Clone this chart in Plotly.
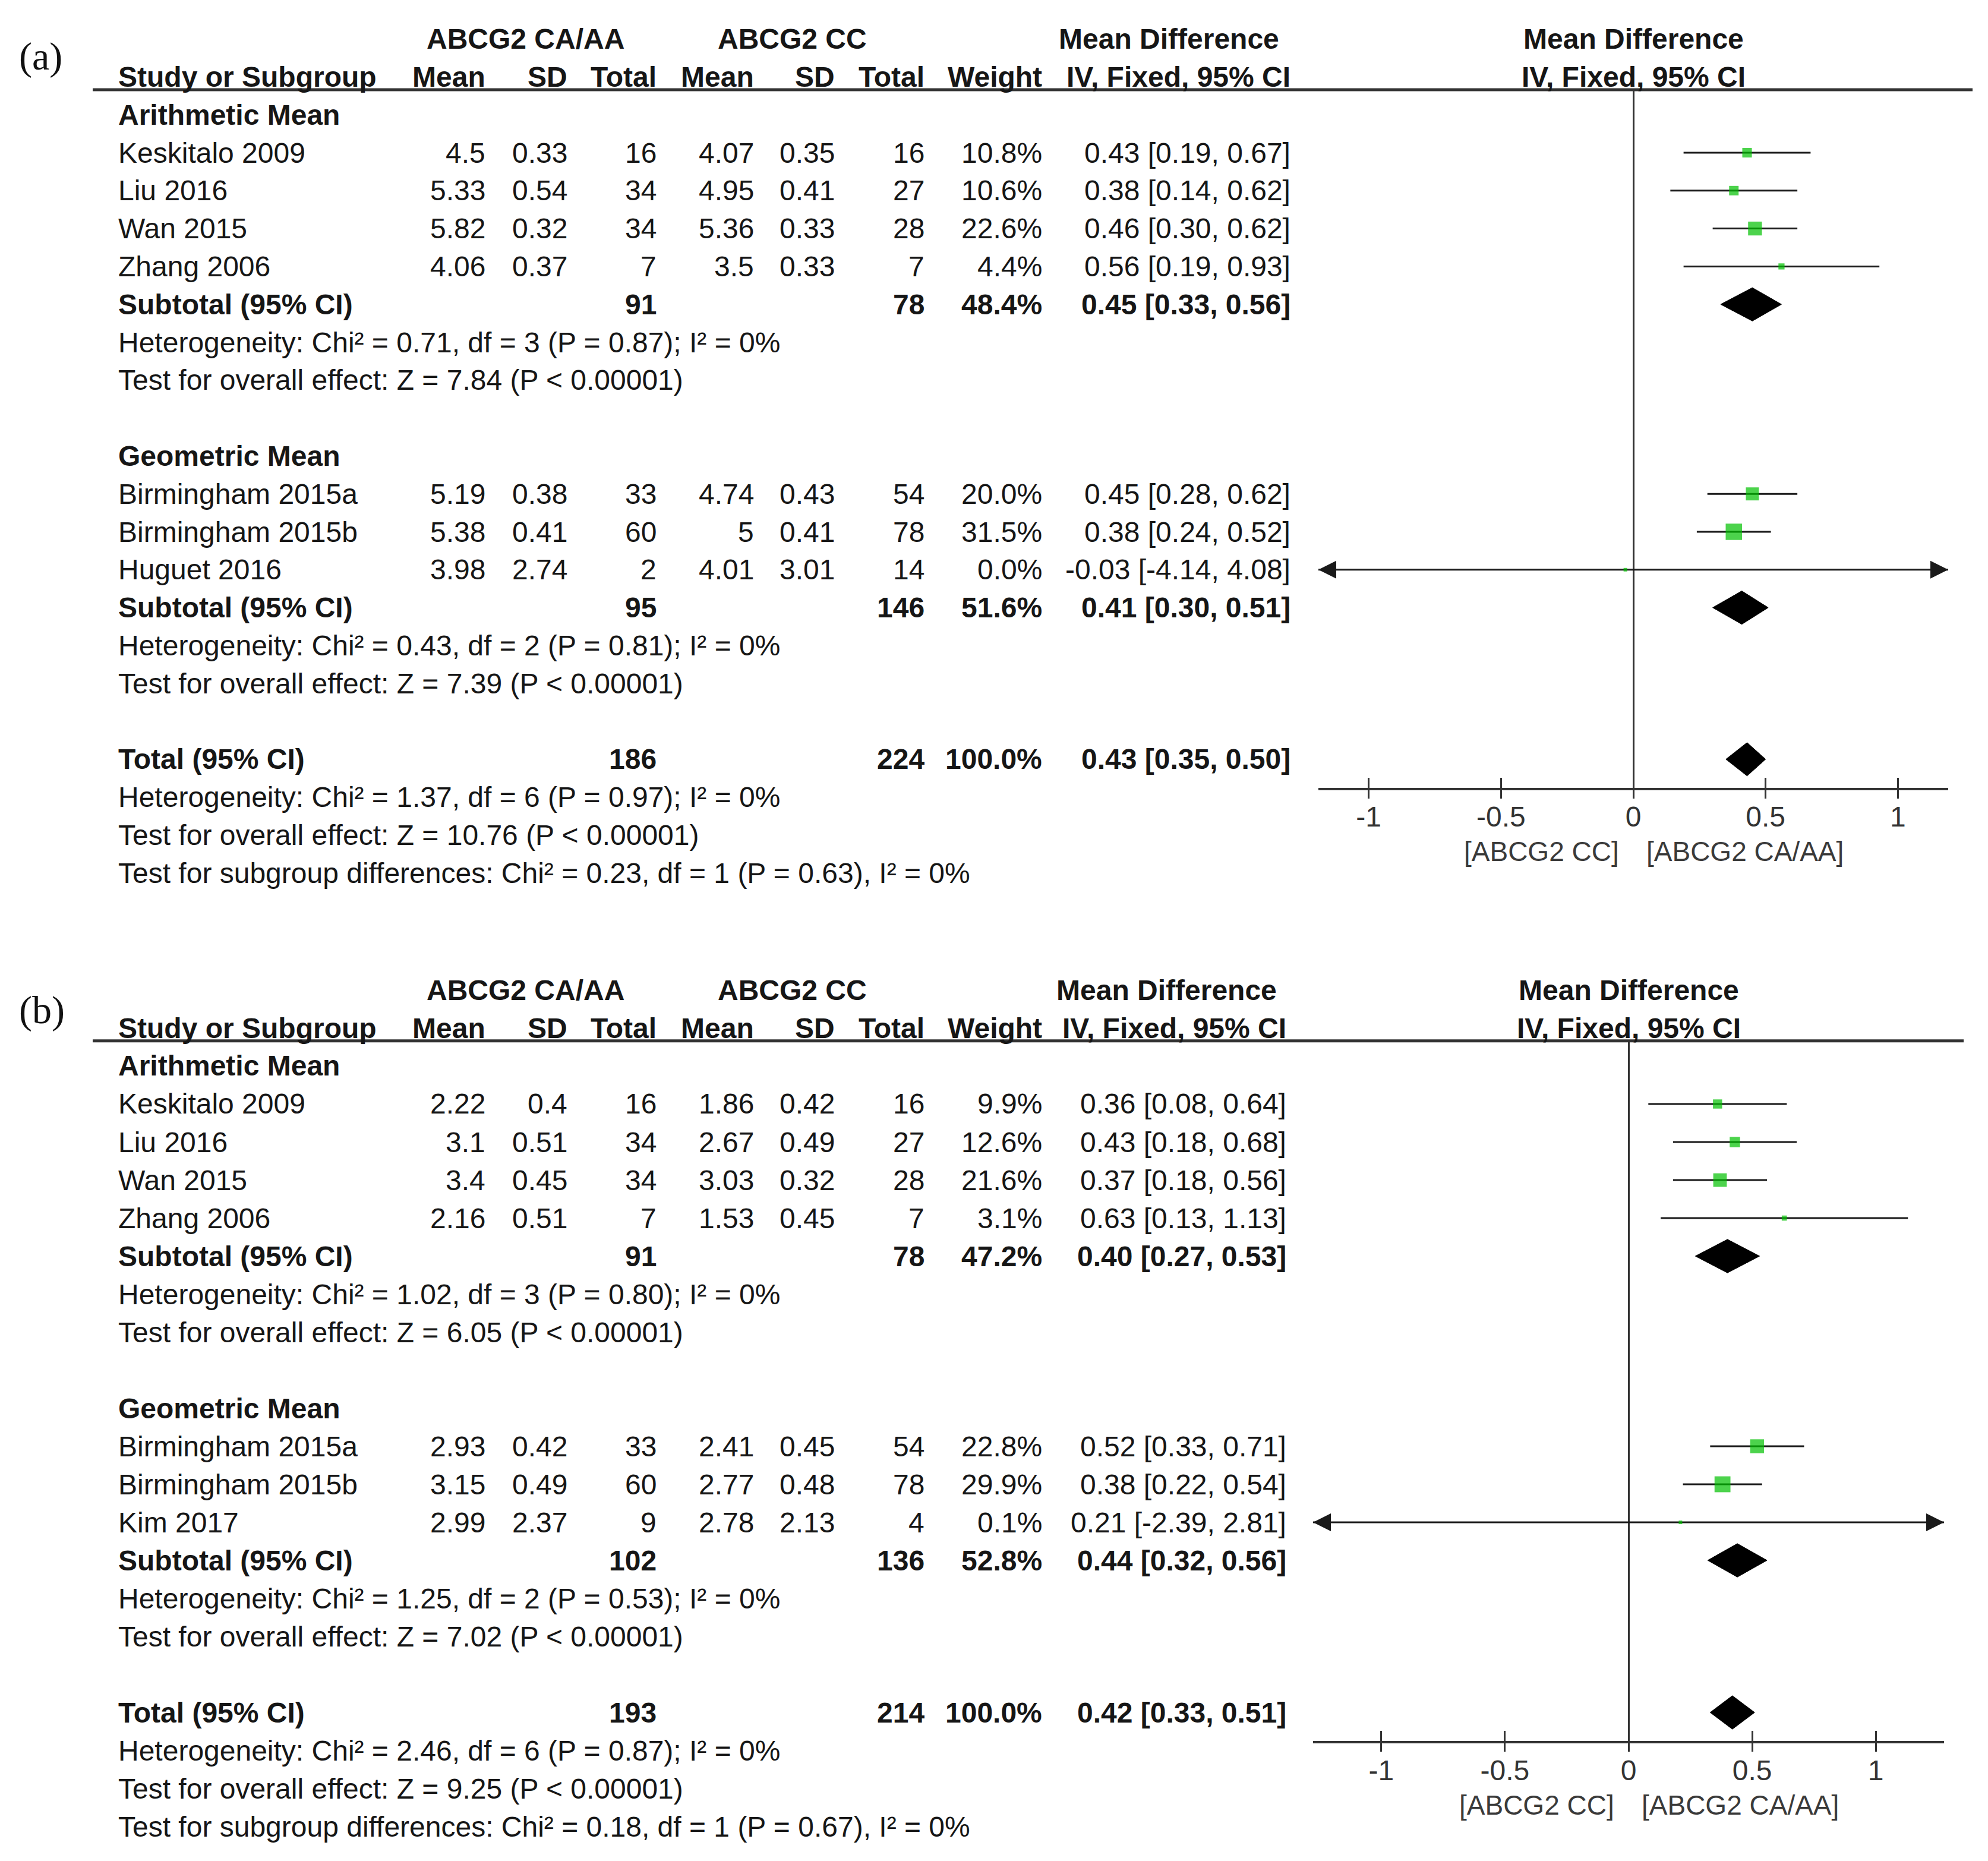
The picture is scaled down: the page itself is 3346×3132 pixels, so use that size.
import plotly.graph_objects as go

W, H = 3346, 3132

# ---------------- Panel (a) data ----------------
a_study = ["Keskitalo 2009", "Liu 2016", "Wan 2015", "Zhang 2006",
           "Birmingham 2015a", "Birmingham 2015b", "Huguet 2016"]
a_group = [0, 0, 0, 0, 1, 1, 1]
a_mean_ca = [4.5, 5.33, 5.82, 4.06, 5.19, 5.38, 3.98]
a_sd_ca = [0.33, 0.54, 0.32, 0.37, 0.38, 0.41, 2.74]
a_n_ca = [16, 34, 34, 7, 33, 60, 2]
a_mean_cc = [4.07, 4.95, 5.36, 3.5, 4.74, 5, 4.01]
a_sd_cc = [0.35, 0.41, 0.33, 0.33, 0.43, 0.41, 3.01]
a_n_cc = [16, 27, 28, 7, 54, 78, 14]
a_weight = [10.8, 10.6, 22.6, 4.4, 20.0, 31.5, 0.0]
a_md = [0.43, 0.38, 0.46, 0.56, 0.45, 0.38, -0.03]
a_lo = [0.19, 0.14, 0.30, 0.19, 0.28, 0.24, -4.14]
a_hi = [0.67, 0.62, 0.62, 0.93, 0.62, 0.52, 4.08]
a_sub_name = ["Arithmetic Mean", "Geometric Mean"]
a_sub_n_ca = [91, 95]
a_sub_n_cc = [78, 146]
a_sub_weight = [48.4, 51.6]
a_sub_md = [0.45, 0.41]
a_sub_lo = [0.33, 0.30]
a_sub_hi = [0.56, 0.51]
a_sub_het = ["Heterogeneity: Chi² = 0.71, df = 3 (P = 0.87); I² = 0%",
             "Heterogeneity: Chi² = 0.43, df = 2 (P = 0.81); I² = 0%"]
a_sub_z = ["Test for overall effect: Z = 7.84 (P &lt; 0.00001)",
           "Test for overall effect: Z = 7.39 (P &lt; 0.00001)"]
a_tot_n_ca = 186
a_tot_n_cc = 224
a_tot_weight = 100.0
a_tot_md, a_tot_lo, a_tot_hi = 0.43, 0.35, 0.50
a_tot_het = "Heterogeneity: Chi² = 1.37, df = 6 (P = 0.97); I² = 0%"
a_tot_z = "Test for overall effect: Z = 10.76 (P &lt; 0.00001)"
a_subgroup_test = "Test for subgroup differences: Chi² = 0.23, df = 1 (P = 0.63), I² = 0%"

# ---------------- Panel (b) data ----------------
b_study = ["Keskitalo 2009", "Liu 2016", "Wan 2015", "Zhang 2006",
           "Birmingham 2015a", "Birmingham 2015b", "Kim 2017"]
b_group = [0, 0, 0, 0, 1, 1, 1]
b_mean_ca = [2.22, 3.1, 3.4, 2.16, 2.93, 3.15, 2.99]
b_sd_ca = [0.4, 0.51, 0.45, 0.51, 0.42, 0.49, 2.37]
b_n_ca = [16, 34, 34, 7, 33, 60, 9]
b_mean_cc = [1.86, 2.67, 3.03, 1.53, 2.41, 2.77, 2.78]
b_sd_cc = [0.42, 0.49, 0.32, 0.45, 0.45, 0.48, 2.13]
b_n_cc = [16, 27, 28, 7, 54, 78, 4]
b_weight = [9.9, 12.6, 21.6, 3.1, 22.8, 29.9, 0.1]
b_md = [0.36, 0.43, 0.37, 0.63, 0.52, 0.38, 0.21]
b_lo = [0.08, 0.18, 0.18, 0.13, 0.33, 0.22, -2.39]
b_hi = [0.64, 0.68, 0.56, 1.13, 0.71, 0.54, 2.81]
b_sub_name = ["Arithmetic Mean", "Geometric Mean"]
b_sub_n_ca = [91, 102]
b_sub_n_cc = [78, 136]
b_sub_weight = [47.2, 52.8]
b_sub_md = [0.40, 0.44]
b_sub_lo = [0.27, 0.32]
b_sub_hi = [0.53, 0.56]
b_sub_het = ["Heterogeneity: Chi² = 1.02, df = 3 (P = 0.80); I² = 0%",
             "Heterogeneity: Chi² = 1.25, df = 2 (P = 0.53); I² = 0%"]
b_sub_z = ["Test for overall effect: Z = 6.05 (P &lt; 0.00001)",
           "Test for overall effect: Z = 7.02 (P &lt; 0.00001)"]
b_tot_n_ca = 193
b_tot_n_cc = 214
b_tot_weight = 100.0
b_tot_md, b_tot_lo, b_tot_hi = 0.42, 0.33, 0.51
b_tot_het = "Heterogeneity: Chi² = 2.46, df = 6 (P = 0.87); I² = 0%"
b_tot_z = "Test for overall effect: Z = 9.25 (P &lt; 0.00001)"
b_subgroup_test = "Test for subgroup differences: Chi² = 0.18, df = 1 (P = 0.67), I² = 0%"

# ---------------- shared labels ----------------
group_ca = "ABCG2 CA/AA"
group_cc = "ABCG2 CC"
col_headers = ["Mean", "SD", "Total", "Mean", "SD", "Total", "Weight"]
md_title = "Mean Difference"
md_method = "IV, Fixed, 95% CI"
tick_values = [-1, -0.5, 0, 0.5, 1]
favours_left = "[ABCG2 CC]"
favours_right = "[ABCG2 CA/AA]"

# ---------------- styling / geometry ----------------
FONT = "Liberation Sans, Arial, sans-serif"
SERIF = "Liberation Serif, Times New Roman, serif"
TXT = "#161616"
AXC = "#333333"
GREEN = "#00C000"
FS = 48
OFF = 9          # global pixel correction
LEFT_X = 198
COL_RIGHT = [820, 958, 1108, 1272, 1408, 1559, 1757]
CA_CENTER, CC_CENTER = 885, 1334
DIAMOND_HALF = 0.44


def PX(px):
    return (px - OFF) / W


def PY(py):
    return 1 - (py - OFF) / H


panels = [
    dict(label="(a)", study=a_study, group=a_group,
         cols=[a_mean_ca, a_sd_ca, a_n_ca, a_mean_cc, a_sd_cc, a_n_cc],
         weight=a_weight, md=a_md, lo=a_lo, hi=a_hi,
         sub_name=a_sub_name, sub_n_ca=a_sub_n_ca, sub_n_cc=a_sub_n_cc,
         sub_weight=a_sub_weight, sub_md=a_sub_md, sub_lo=a_sub_lo, sub_hi=a_sub_hi,
         sub_het=a_sub_het, sub_z=a_sub_z,
         tot=(a_tot_n_ca, a_tot_n_cc, a_tot_weight, a_tot_md, a_tot_lo, a_tot_hi),
         tot_het=a_tot_het, tot_z=a_tot_z, subgroup_test=a_subgroup_test,
         geom=dict(row0=194.2, rowh=63.8, line_row=-0.66, axis_row=17.75,
                   px0=2220, px1=3280, R=1.19, rule=(157, 3321),
                   ci_right=2175, md_center=1968, label_xy=(69, 96))),
    dict(label="(b)", study=b_study, group=b_group,
         cols=[b_mean_ca, b_sd_ca, b_n_ca, b_mean_cc, b_sd_cc, b_n_cc],
         weight=b_weight, md=b_md, lo=b_lo, hi=b_hi,
         sub_name=b_sub_name, sub_n_ca=b_sub_n_ca, sub_n_cc=b_sub_n_cc,
         sub_weight=b_sub_weight, sub_md=b_sub_md, sub_lo=b_sub_lo, sub_hi=b_sub_hi,
         sub_het=b_sub_het, sub_z=b_sub_z,
         tot=(b_tot_n_ca, b_tot_n_cc, b_tot_weight, b_tot_md, b_tot_lo, b_tot_hi),
         tot_het=b_tot_het, tot_z=b_tot_z, subgroup_test=b_subgroup_test,
         geom=dict(row0=1795.0, rowh=64.0, line_row=-0.66, axis_row=17.75,
                   px0=2211, px1=3273, R=1.276, rule=(157, 3306),
                   ci_right=2168, md_center=1965, label_xy=(71, 1701))),
]


def fmt(v):
    return f"{v:g}"


def fmt_w(w):
    return f"{w:.1f}%"


def fmt_ci(m, l, h):
    return f"{m:.2f} [{l:.2f}, {h:.2f}]"


fig = go.Figure()
annotations = []
shapes = []
axes = {}


def ann(text, x, y, xanchor, xref="paper", bold=False, size=FS, color=TXT,
        family=FONT, xshift=0):
    annotations.append(dict(
        text=f"<b>{text}</b>" if bold else text, x=x, y=y, xref=xref, yref="paper",
        xanchor=xanchor, yanchor="middle", showarrow=False, xshift=xshift,
        font=dict(family=family, size=size, color=color)))


for pi, P in enumerate(panels):
    G = P["geom"]
    xa = "x" if pi == 0 else "x2"
    ya = "y" if pi == 0 else "y2"
    xo = "x3" if pi == 0 else "x4"
    R = G["R"]

    def yp(k, G=G):
        return PY(G["row0"] + G["rowh"] * k)

    # panel label
    ann(P["label"], PX(G["label_xy"][0]), PY(G["label_xy"][1]), "center",
        size=66, family=SERIF, color="#111111")

    # header rows
    ann(group_ca, PX(CA_CENTER), yp(-2), "center", bold=True)
    ann(group_cc, PX(CC_CENTER), yp(-2), "center", bold=True)
    ann(md_title, PX(G["md_center"]), yp(-2), "center", bold=True)
    ann(md_title, 0, yp(-2), "center", xref=xa, bold=True)
    ann("Study or Subgroup", PX(LEFT_X), yp(-1), "left", bold=True)
    for h, cx in zip(col_headers, COL_RIGHT):
        ann(h, PX(cx), yp(-1), "right", bold=True)
    ann(md_method, PX(G["ci_right"]), yp(-1), "right", bold=True)
    ann(md_method, 0, yp(-1), "center", xref=xa, bold=True)

    # header rule
    shapes.append(dict(type="line", xref="paper", yref="paper",
                       x0=PX(G["rule"][0]), x1=PX(G["rule"][1]),
                       y0=yp(G["line_row"]), y1=yp(G["line_row"]),
                       line=dict(color=AXC, width=5)))

    # body rows
    study_rows = []
    summary = []  # (row, md, lo, hi)
    k = 0
    for g, gname in enumerate(P["sub_name"]):
        ann(gname, PX(LEFT_X), yp(k), "left", bold=True)
        k += 1
        for i, name in enumerate(P["study"]):
            if P["group"][i] != g:
                continue
            ann(name, PX(LEFT_X), yp(k), "left")
            for col, cx in zip(P["cols"], COL_RIGHT[:6]):
                ann(fmt(col[i]), PX(cx), yp(k), "right")
            ann(fmt_w(P["weight"][i]), PX(COL_RIGHT[6]), yp(k), "right")
            ann(fmt_ci(P["md"][i], P["lo"][i], P["hi"][i]), PX(G["ci_right"]), yp(k), "right")
            study_rows.append((i, k))
            k += 1
        ann("Subtotal (95% CI)", PX(LEFT_X), yp(k), "left", bold=True)
        ann(fmt(P["sub_n_ca"][g]), PX(COL_RIGHT[2]), yp(k), "right", bold=True)
        ann(fmt(P["sub_n_cc"][g]), PX(COL_RIGHT[5]), yp(k), "right", bold=True)
        ann(fmt_w(P["sub_weight"][g]), PX(COL_RIGHT[6]), yp(k), "right", bold=True)
        ann(fmt_ci(P["sub_md"][g], P["sub_lo"][g], P["sub_hi"][g]), PX(G["ci_right"]),
            yp(k), "right", bold=True)
        summary.append((k, P["sub_md"][g], P["sub_lo"][g], P["sub_hi"][g]))
        k += 1
        ann(P["sub_het"][g], PX(LEFT_X), yp(k), "left")
        k += 1
        ann(P["sub_z"][g], PX(LEFT_X), yp(k), "left")
        k += 2
    n_ca, n_cc, tw, tmd, tlo, thi = P["tot"]
    ann("Total (95% CI)", PX(LEFT_X), yp(k), "left", bold=True)
    ann(fmt(n_ca), PX(COL_RIGHT[2]), yp(k), "right", bold=True)
    ann(fmt(n_cc), PX(COL_RIGHT[5]), yp(k), "right", bold=True)
    ann(fmt_w(tw), PX(COL_RIGHT[6]), yp(k), "right", bold=True)
    ann(fmt_ci(tmd, tlo, thi), PX(G["ci_right"]), yp(k), "right", bold=True)
    summary.append((k, tmd, tlo, thi))
    ann(P["tot_het"], PX(LEFT_X), yp(k + 1), "left")
    ann(P["tot_z"], PX(LEFT_X), yp(k + 2), "left")
    ann(P["subgroup_test"], PX(LEFT_X), yp(k + 3), "left")

    # favours labels
    ann(favours_left, 0, yp(19.43), "right", xref=xa, color="#3a3a3a", xshift=-22, size=46)
    ann(favours_right, 0, yp(19.43), "left", xref=xa, color="#3a3a3a", xshift=20, size=46)

    # CI lines
    ci_x, ci_y = [], []
    arr_x, arr_y, arr_sym = [], [], []
    for i, r in study_rows:
        lo_c = max(P["lo"][i], -R)
        hi_c = min(P["hi"][i], R)
        ci_x += [lo_c, hi_c, None]
        ci_y += [r, r, None]
        if P["lo"][i] < -R:
            arr_x.append(-R); arr_y.append(r); arr_sym.append("arrow-left")
        if P["hi"][i] > R:
            arr_x.append(R); arr_y.append(r); arr_sym.append("arrow-right")
    fig.add_trace(go.Scatter(x=ci_x, y=ci_y, mode="lines", xaxis=xa, yaxis=ya,
                             line=dict(color="#1a1a1a", width=3), hoverinfo="skip"))
    if arr_x:
        fig.add_trace(go.Scatter(x=arr_x, y=arr_y, mode="markers", xaxis=xa, yaxis=ya,
                                 cliponaxis=False,
                                 marker=dict(symbol=arr_sym, size=30, color="#1a1a1a",
                                             line=dict(width=0)),
                                 hoverinfo="skip"))
    # study squares
    fig.add_trace(go.Scatter(
        x=[P["md"][i] for i, r in study_rows], y=[r for i, r in study_rows],
        mode="markers", xaxis=xa, yaxis=ya, cliponaxis=False,
        marker=dict(symbol="square", color=GREEN, line=dict(width=0),
                    size=[max(6, 4.9 * P["weight"][i] ** 0.5) for i, r in study_rows]),
        hoverinfo="skip"))
    # diamonds
    for r, m, l, h in summary:
        fig.add_trace(go.Scatter(
            x=[l, m, h, m, l], y=[r, r - DIAMOND_HALF, r, r + DIAMOND_HALF, r],
            mode="lines", fill="toself", fillcolor="#000000",
            line=dict(color="#000000", width=1), xaxis=xa, yaxis=ya, hoverinfo="skip"))
    # dummy for overlay axis
    fig.add_trace(go.Scatter(x=[None], y=[None], xaxis=xo, yaxis=ya, hoverinfo="skip"))

    axkey = "xaxis" if pi == 0 else "xaxis2"
    aykey = "yaxis" if pi == 0 else "yaxis2"
    aokey = "xaxis3" if pi == 0 else "xaxis4"
    axes[axkey] = dict(
        domain=[PX(G["px0"]), PX(G["px1"])], range=[-R, R], anchor=ya,
        showline=True, linecolor=AXC, linewidth=4,
        ticks="inside", ticklen=17, tickwidth=3, tickcolor=AXC,
        tickmode="array", tickvals=tick_values, ticktext=[fmt(t) for t in tick_values],
        tickfont=dict(family=FONT, size=FS, color="#333333"), ticklabelstandoff=4,
        showgrid=False, zeroline=True, zerolinecolor=AXC, zerolinewidth=3,
        fixedrange=True)
    axes[aokey] = dict(
        overlaying=xa, anchor=ya, side="bottom", range=[-R, R],
        tickmode="array", tickvals=tick_values, ticks="outside", ticklen=17,
        tickwidth=3, tickcolor=AXC, showticklabels=False, showline=False,
        showgrid=False, zeroline=False, fixedrange=True)
    axes[aykey] = dict(
        domain=[yp(G["axis_row"]), yp(G["line_row"])],
        range=[G["axis_row"], G["line_row"]], visible=False,
        showgrid=False, zeroline=False, fixedrange=True)

fig.update_layout(
    width=W, height=H, margin=dict(l=0, r=0, t=0, b=0),
    paper_bgcolor="white", plot_bgcolor="rgba(0,0,0,0)", showlegend=False,
    annotations=annotations, shapes=shapes, **axes)

fig.write_html("out.html")
